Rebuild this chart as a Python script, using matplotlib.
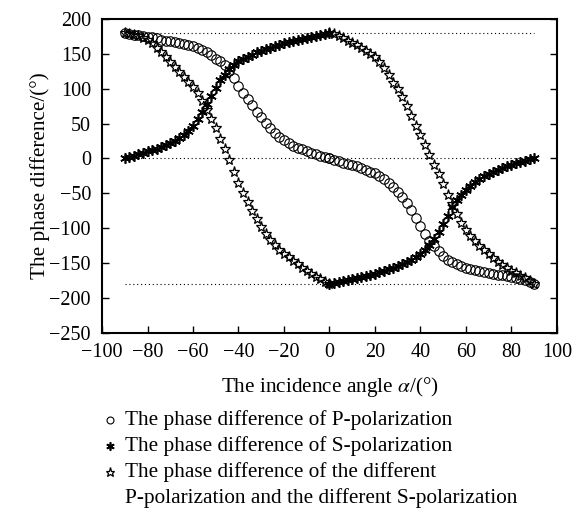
import numpy as np
import matplotlib.pyplot as plt
from matplotlib.lines import Line2D

plt.rcParams["font.family"] = ["Liberation Serif", "DejaVu Serif"]
plt.rcParams["mathtext.fontset"] = "stix"

# incidence angle in degrees, 2 degree steps on each side of normal incidence
angle_neg = np.arange(-90, 1, 2)
angle_pos = np.arange(0, 91, 2)

# phase difference of P-polarization
p_neg = [180, 179, 177.5, 176.5, 175.5, 174.5, 173.5, 172, 170.5, 169,
         168, 166.5, 165, 163.5, 162, 160.5, 158, 155.5, 152, 148,
         143, 139, 134, 126, 116, 104, 94, 85, 76, 67,
         59, 51, 43, 37, 31, 26, 22, 18.5, 15.5, 13,
         10.5, 8.5, 6, 4, 2, 0]
p_pos = [0, -2, -4, -6, -7.5, -9, -11.5, -14, -16.5, -19,
         -21, -25, -29, -35, -41, -48, -56, -64, -74, -85,
         -97, -108, -118, -126, -133, -140, -145, -149, -152, -154.5,
         -156.5, -158.5, -160, -161.5, -163, -164, -165.5, -166.5, -167.5, -168.5,
         -170, -171.5, -173, -175, -177.5, -180]

# phase difference of S-polarization
s_neg = [0, 2, 4, 6, 8, 10, 12, 14, 16.5, 19,
         22, 25, 29, 34, 40, 47, 56, 66, 78, 90,
         101, 112, 120, 128, 134, 139, 143, 146, 149, 152,
         154.5, 156.5, 158.5, 160.5, 163, 165, 166.5, 168, 169.5, 171,
         172.5, 174, 176, 177.5, 179, 180]
s_pos = [-180, -179, -177.5, -176, -174.5, -172.5, -171, -169.5, -168, -166.5,
         -165, -163, -161, -159, -157, -154.5, -152, -149, -146, -142,
         -137, -131, -124, -115, -105, -94, -82, -70, -60, -52,
         -45, -39, -34, -29, -25, -22, -19, -16, -13.5, -11,
         -9, -7, -5, -3, -1.5, 0]

# phase difference between the P and S results
d_neg = [180, 179, 177, 175, 172.5, 170, 165, 159, 152, 145,
         138, 131, 124, 117, 110, 103, 94, 83, 70, 57,
         43, 28, 13, -2, -19, -35, -49, -62, -75, -87,
         -98, -108, -117, -124, -131, -137, -142, -147, -152, -157,
         -161, -165, -169.5, -173.5, -177, -180]
d_pos = [180, 178, 175.5, 172.5, 169, 166, 163, 159, 154.5, 150,
         145, 138, 130, 120, 108, 99, 88, 75, 61, 47,
         33, 19, 5, -9, -23, -37, -52, -66, -80, -92,
         -102, -111, -119, -126, -132, -137, -143, -148, -153, -157,
         -161, -164.5, -168, -172, -176, -180]

legend_lines = [
    "The phase difference of P-polarization",
    "The phase difference of S-polarization",
    "The phase difference of the different",
    "P-polarization and the different S-polarization",
]

angles = np.concatenate([angle_neg, angle_pos])

fig = plt.figure(figsize=(5.8, 5.12), dpi=100)
ax = fig.add_axes([0.176, 0.350, 0.784, 0.613])

for level in (180, 0, -180):
    ax.plot([-90, 90], [level, level], ls=(0, (1, 2.5)), color="black", lw=0.8)

circle_style = dict(ls="none", marker="o", ms=6.8, mfc="none", mec="black", mew=0.8)
aster_style = dict(ls="none", marker=(6, 2, 0), ms=7.5, color="black", mew=1.2)
star_style = dict(ls="none", marker="*", ms=8, mfc="none", mec="black", mew=0.9)

ax.plot(angles, p_neg + p_pos, **circle_style)
ax.plot(angles, s_neg + s_pos, **aster_style)
ax.plot(angles, d_neg + d_pos, **star_style)

ax.set_xlim(-100, 100)
ax.set_ylim(-250, 200)
ax.set_xticks(range(-100, 101, 20))
ax.set_yticks(range(-250, 201, 50))
ax.tick_params(direction="in", length=5, width=1, right=True, top=False,
               labelsize=14.5)
ax.tick_params(axis="x", pad=7)
ax.tick_params(axis="y", pad=8)
for sp in ax.spines.values():
    sp.set_linewidth(1.5)

fig.text(330 / 580, 1 - 387 / 512, r"The incidence angle $\alpha$/(°)",
         ha="center", va="center", fontsize=15.3)
fig.text(40 / 580, 1 - 176 / 512, "The phase difference/(°)",
         ha="center", va="center", rotation=90, fontsize=15.3)

# legend below the axes, drawn by hand
rows_y = [420, 446, 472, 498]
marker_styles = [dict(circle_style, ms=5), dict(aster_style, ms=6), dict(star_style, ms=6.5)]
for y, style in zip(rows_y[:3], marker_styles):
    fig.add_artist(Line2D([110 / 580], [1 - y / 512], transform=fig.transFigure, **style))
for y, txt in zip(rows_y, legend_lines):
    fig.text(125 / 580, 1 - y / 512, txt, ha="left", va="center", fontsize=15.3)

fig.savefig("out.png", dpi=100)
